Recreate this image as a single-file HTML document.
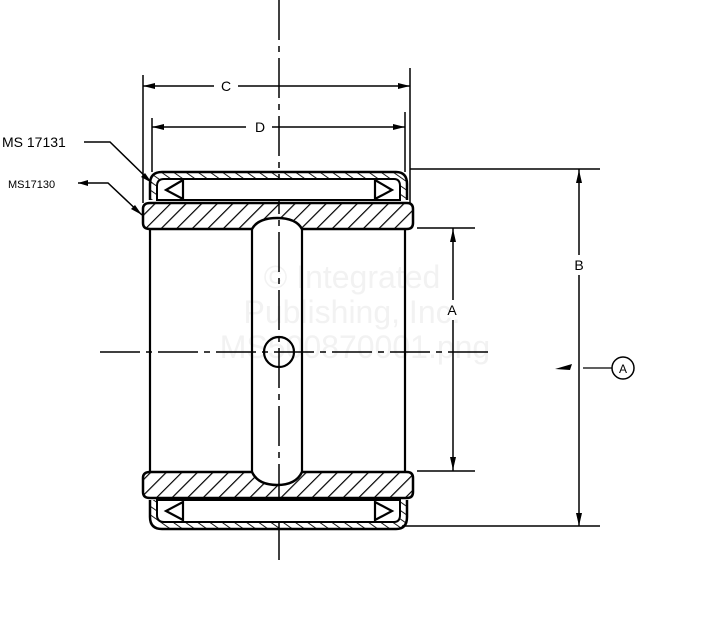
<!DOCTYPE html>
<html><head><style>html,body{margin:0;padding:0;background:#fff}svg{display:block}</style></head>
<body>
<svg width="703" height="629" viewBox="0 0 703 629" xmlns="http://www.w3.org/2000/svg" font-family="Liberation Sans, sans-serif">
<defs>
<pattern id="h" patternUnits="userSpaceOnUse" width="11" height="11" patternTransform="rotate(45)">
<line x1="0" y1="0" x2="0" y2="11" stroke="#000" stroke-width="2.4"/>
</pattern>
<pattern id="h2" patternUnits="userSpaceOnUse" width="7" height="7" patternTransform="rotate(-55)">
<line x1="0" y1="0" x2="0" y2="7" stroke="#000" stroke-width="1.8"/>
</pattern>
</defs>
<!-- watermark -->
<g fill="#f2f2f2" font-size="32" text-anchor="middle">
<text x="352" y="288">© Integrated</text>
<text x="352" y="323">Publishing, Inc.</text>
<text x="355" y="358">MS500870001.png</text>
</g>
<g stroke="#000" fill="none" stroke-width="2.2">
<!-- center lines -->
<line x1="279" y1="0" x2="279" y2="560" stroke-width="1.5" stroke-dasharray="40,6,6,6"/>
<line x1="100" y1="352" x2="490" y2="352" stroke-width="1.5" stroke-dasharray="40,6,6,6"/>
<!-- top outer shell -->
<path d="M150,200 L150,184 Q150,172 162,172 L396,172 Q407,172 407,184 L407,200" fill="url(#h2)" stroke-width="2.5"/>
<path d="M157,200 L157,186 Q157,179 164,179 L394,179 Q400,179 400,186 L400,200 Z" fill="#fff" stroke-width="2"/>
<path d="M183,180 L166,190 L183,199 Z" fill="#fff"/>
<path d="M375,180 L392,190 L375,199 Z" fill="#fff"/>
<!-- top inner ring -->
<path d="M143,209 Q143,203 150,203 L407,203 Q413,203 413,209 L413,223 Q413,229 407,229 L302,229 Q296,218 277,218 Q258,218 252,229 L150,229 Q143,229 143,223 Z" fill="url(#h)" stroke-width="2.5"/>
<!-- bottom inner ring -->
<path d="M143,478 Q143,472 150,472 L252,472 Q258,485 277,485 Q296,485 302,472 L407,472 Q413,472 413,478 L413,492 Q413,498 407,498 L150,498 Q143,498 143,492 Z" fill="url(#h)" stroke-width="2.5"/>
<!-- bottom outer shell -->
<path d="M150,500 L150,517 Q150,529 162,529 L396,529 Q407,529 407,517 L407,500" fill="url(#h2)" stroke-width="2.5"/>
<path d="M157,500 L157,515 Q157,522 164,522 L394,522 Q400,522 400,515 L400,500 Z" fill="#fff" stroke-width="2"/>
<path d="M183,502 L166,511 L183,520 Z" fill="#fff"/>
<path d="M375,502 L392,511 L375,520 Z" fill="#fff"/>
<!-- bore lines -->
<line x1="150" y1="229" x2="150" y2="472"/>
<line x1="405" y1="229" x2="405" y2="472"/>
<!-- groove -->
<line x1="252" y1="229" x2="252" y2="472"/>
<line x1="302" y1="229" x2="302" y2="472"/>
<circle cx="279" cy="352" r="15"/>
<!-- dims C, D -->
<line x1="143" y1="75" x2="143" y2="203" stroke-width="1.5"/>
<line x1="410" y1="68" x2="410" y2="203" stroke-width="1.5"/>
<line x1="143" y1="86" x2="214" y2="86" stroke-width="1.5"/>
<line x1="238" y1="86" x2="410" y2="86" stroke-width="1.5"/>
<line x1="152" y1="118" x2="152" y2="172" stroke-width="1.5"/>
<line x1="405" y1="112" x2="405" y2="172" stroke-width="1.5"/>
<line x1="152" y1="127" x2="246" y2="127" stroke-width="1.5"/>
<line x1="272" y1="127" x2="405" y2="127" stroke-width="1.5"/>
<!-- dim B -->
<line x1="410" y1="169" x2="600" y2="169" stroke-width="1.5"/>
<line x1="402" y1="526" x2="600" y2="526" stroke-width="1.5"/>
<line x1="579" y1="169" x2="579" y2="255" stroke-width="1.5"/>
<line x1="579" y1="275" x2="579" y2="526" stroke-width="1.5"/>
<!-- dim A -->
<line x1="417" y1="228" x2="475" y2="228" stroke-width="1.5"/>
<line x1="417" y1="471" x2="475" y2="471" stroke-width="1.5"/>
<line x1="453" y1="228" x2="453" y2="300" stroke-width="1.5"/>
<line x1="453" y1="320" x2="453" y2="471" stroke-width="1.5"/>
<!-- circle A leader -->
<line x1="583" y1="368" x2="612" y2="368" stroke-width="1.2"/>
<circle cx="623" cy="368" r="11" stroke-width="1.5"/>
<!-- MS leaders -->
<polyline points="84,142 110,142 152,183" stroke-width="1.5"/>
<polyline points="78,183 108,183 142,215" stroke-width="1.5"/>
</g>
<g fill="#000">
<path d="M143,86 L155,83 L155,89 Z"/><path d="M410,86 L398,83 L398,89 Z"/>
<path d="M152,127 L164,124 L164,130 Z"/><path d="M405,127 L393,124 L393,130 Z"/>
<path d="M579,170 L576,183 L582,183 Z"/><path d="M579,526 L576,513 L582,513 Z"/>
<path d="M453,229 L450,242 L456,242 Z"/><path d="M453,470 L450,457 L456,457 Z"/>
<path d="M555,369 L572,364 L570,370 Z"/>
<path d="M78,183 L88,180 L88,186 Z"/>
<path d="M152,183 L141,177 L145,173 Z"/><path d="M142,215 L131,209 L135,205 Z"/>
<text x="226" y="91" font-size="14" text-anchor="middle">C</text>
<text x="260" y="132" font-size="14" text-anchor="middle">D</text>
<text x="579" y="270" font-size="14" text-anchor="middle">B</text>
<text x="452" y="315" font-size="14" text-anchor="middle">A</text>
<text x="623" y="373" font-size="12" text-anchor="middle">A</text>
<text x="2" y="147" font-size="14">MS 17131</text>
<text x="8" y="188" font-size="11">MS17130</text>
</g>
</svg>
</body></html>
